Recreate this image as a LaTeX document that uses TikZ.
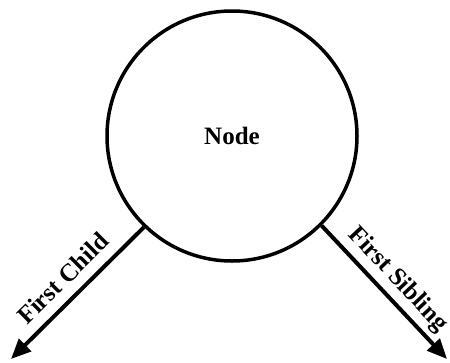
\documentclass[tikz,border=0pt]{standalone}
\usepackage{fontspec}
\setmainfont{Liberation Serif}
\usetikzlibrary{arrows.meta}
\begin{document}
\begin{tikzpicture}[x=1pt,y=-1pt,
  treenode/.style={circle, draw, line width=3.5pt, minimum size=250pt, inner sep=0pt,
    font=\fontsize{25}{30}\selectfont\bfseries},
  link/.style={line width=4pt, -{Triangle[length=20pt,width=17pt]}},
  linklabel/.style={sloped, above=12pt, inner sep=0pt, text depth=0pt,
    font=\fontsize{25}{30}\selectfont\bfseries}]
  \useasboundingbox (0,0) rectangle (450,362);
  \node[treenode] (n) at (232,136) {Node};
  \coordinate (child) at (11,359);
  \coordinate (sibling) at (447,359);
  \draw[link] (n.-134) -- (child);
  \draw[link] (n.-45) -- (sibling);
  \path (child) -- node[linklabel] {First Child} (n.-134);
  \path (n.-45) -- node[linklabel] {First Sibling} (sibling);
\end{tikzpicture}
\end{document}
